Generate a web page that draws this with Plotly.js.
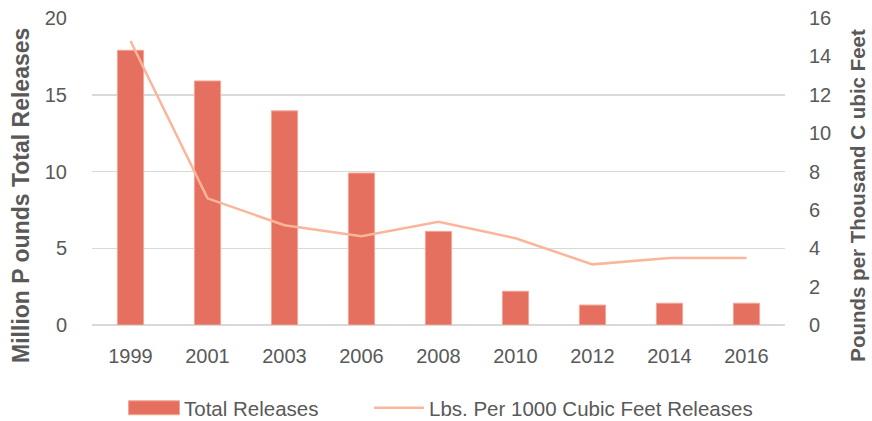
<!DOCTYPE html>
<html>
<head>
<meta charset="utf-8">
<script src="https://cdn.plot.ly/plotly-3.0.1.min.js"></script>
<style>html,body{margin:0;padding:0;background:#fff;}#chart{width:872px;height:421px;}</style>
</head>
<body>
<div id="chart"></div>
<script>
const years = ["1999","2001","2003","2006","2008","2010","2012","2014","2016"];
const totalReleases = [17.9, 15.9, 13.95, 9.9, 6.1, 2.2, 1.3, 1.42, 1.42];
const lbsPer1000 = [14.8, 6.6, 5.2, 4.62, 5.38, 4.52, 3.16, 3.49, 3.49];
const leftTicks = [0, 5, 10, 15, 20];
const rightTicks = [0, 2, 4, 6, 8, 10, 12, 14, 16];
const leftTitle = "Million P ounds Total Releases";
const rightTitle = "Pounds per Thousand C ubic Feet";

const fam = "Liberation Sans, Arial, sans-serif";
const grey = "#595959";

const data = [
  {type: "bar", x: years, y: totalReleases, name: "Total Releases", legend: "legend",
   marker: {color: "#E6705F", line: {color: "#F2A898", width: 1}}, yaxis: "y"},
  {type: "scatter", mode: "lines", x: years, y: lbsPer1000, name: "Lbs. Per 1000 Cubic Feet Releases", legend: "legend2",
   line: {color: "#FBB59A", width: 2.5}, yaxis: "y2"}
];

const legendBase = {orientation: "h", xref: "container", xanchor: "left", y: 0.031, yref: "container", yanchor: "middle",
                    font: {family: fam, color: grey, size: 20.5}, itemwidth: 50, bgcolor: "rgba(0,0,0,0)"};

const layout = {
  width: 872, height: 421,
  margin: {l: 92, r: 87, t: 18, b: 96},
  paper_bgcolor: "#fff", plot_bgcolor: "#fff",
  bargap: 0.66,
  showlegend: true,
  legend: Object.assign({}, legendBase, {x: 124 / 872}),
  legend2: Object.assign({}, legendBase, {x: 369 / 872}),
  xaxis: {type: "category", tickfont: {family: fam, color: grey, size: 20}, automargin: false,
          showgrid: false, showline: false, ticks: "", ticklabelstandoff: 17},
  yaxis: {range: [0, 20], tickvals: leftTicks, tickfont: {family: fam, color: grey, size: 20}, automargin: false,
          gridcolor: "#D9D9D9", gridwidth: 1.5, zeroline: true, zerolinecolor: "#D9D9D9", zerolinewidth: 1.5,
          ticks: "", ticklabelstandoff: 24},
  yaxis2: {range: [0, 16], tickvals: rightTicks, overlaying: "y", side: "right", showgrid: false, zeroline: false, automargin: false,
           tickfont: {family: fam, color: grey, size: 20}, ticks: "", ticklabelstandoff: 23},
  annotations: [
    {text: leftTitle, xref: "paper", yref: "paper", x: -0.1025, y: 0.4235, xanchor: "center", yanchor: "middle",
     textangle: -90, showarrow: false, font: {family: fam, color: grey, size: 23, weight: "bold"}},
    {text: rightTitle, xref: "paper", yref: "paper", x: 1.105, y: 0.4235, xanchor: "center", yanchor: "middle",
     textangle: -90, showarrow: false, font: {family: fam, color: grey, size: 20.5, weight: "bold"}}
  ]
};

Plotly.newPlot("chart", data, layout, {displayModeBar: false, staticPlot: true}).then(function (gd) {
  // widen the bar legend swatch into the reference's wide rectangular key
  const lg = gd.querySelector(".legend .traces");
  if (lg) {
    lg.querySelectorAll(".legendpoints path").forEach(function (p) {
      p.setAttribute("d", "M-25.5,-7h51v14h-51z");
    });
  }
});
</script>
</body>
</html>
